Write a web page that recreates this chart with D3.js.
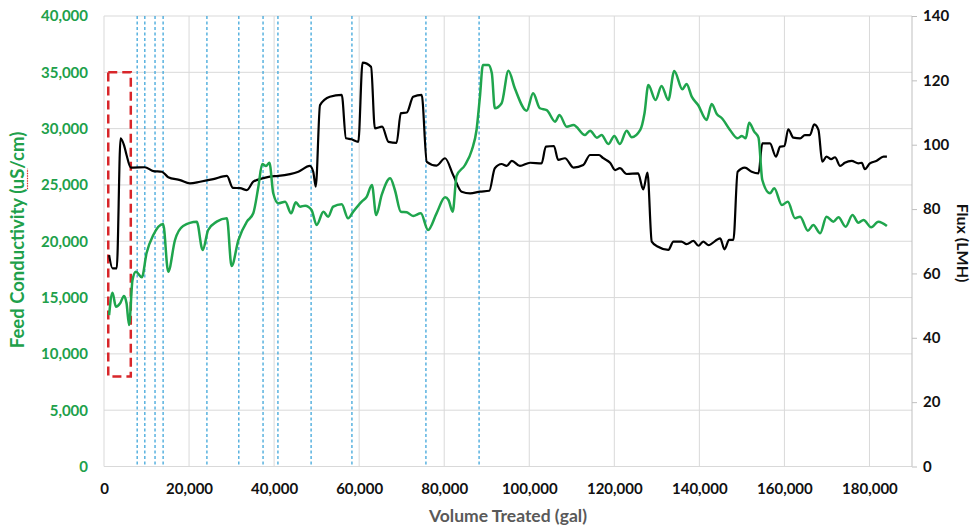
<!DOCTYPE html>
<html><head><meta charset="utf-8">
<script src="https://cdn.jsdelivr.net/npm/d3@7"></script>
<style>body{margin:0;background:#fff}</style>
</head><body><svg id="chart" width="972" height="528"></svg>
<script>
const volumeTicks = [0,20000,40000,60000,80000,100000,120000,140000,160000,180000];
const conductivityTicks = [0,5000,10000,15000,20000,25000,30000,35000,40000];
const fluxTicks = [0,20,40,60,80,100,120,140];
const eventVolumes = [7800,9600,12000,13900,24200,31700,37400,40900,48700,58300,75700,88200];
const startupVolumes = [1000,6300];
const startupConductivity = [8000,35000];

const fluxVolume = [1200,2000,3000,3900,4700,5300,6300,6900,9600,11600,13600,15100,17900,20200,22600,25700,28900,30300,32000,33600,35100,37500,39000,41000,45700,48400,49200,49800,50800,53100,55900,56900,58200,59800,60800,62800,63700,65400,66900,68800,69800,71200,72700,74700,75900,78200,80200,82100,84100,86100,88400,90600,91900,93500,94700,95900,97800,100200,102900,103900,105800,106800,108400,110400,112700,114300,116400,117400,119000,120200,121300,122900,125600,126800,127800,128800,130300,132700,133900,135800,137000,138600,139800,140900,142100,144900,145900,147000,148000,149000,150700,152300,153900,154800,156600,158000,159000,160000,160900,162100,163700,164800,166000,167000,168000,168900,169900,171000,171900,173100,174200,175800,177400,178200,178900,180100,181700,183300,184100];
const fluxValues = [65.7,61.6,61.6,102,99.9,96.8,92.9,92.9,93,91.8,91.6,89.9,89,88,88.5,89.3,90.3,86.6,86.5,85.9,88.5,89.6,90.1,90.3,91.6,93.4,91.6,87,112.3,114.9,115.5,102,101.7,100.9,125.5,124.2,105.1,105.6,100.9,100.6,109.8,110,114.9,115.5,94.7,93.5,95.8,90.6,85.4,84.9,85.4,85.7,92.7,94,93.4,95,93.4,94.4,94.2,99.4,99.6,95.3,95.8,92.9,93.7,96.8,96.8,95.8,94.4,92.1,92.7,90.9,91.1,86.1,91.3,69.9,68.3,67.3,69.9,69.9,69.1,70.1,68.6,69.9,68.8,70.9,67.5,70.4,70.4,91.6,92.9,91.6,91.1,100.4,100.4,96.3,99.4,99.6,104.8,102.2,102,103,103,106.3,104.6,94.7,96.3,95.5,96.1,93.4,94.4,95,94.2,94.4,92.4,94.2,95,96.3,96.3];

const condVolume = [1200,2000,2800,3800,4700,5300,5900,6700,7500,8900,10000,11600,13900,15100,16700,18600,21800,23200,24500,26500,28900,30000,31600,33600,35100,36300,37200,38100,38900,39800,41000,42600,44000,45100,46100,47300,48800,50000,51600,52700,53900,55900,57400,58600,60600,61800,63000,64000,65300,67300,68400,69800,71200,72700,74500,76200,78200,80200,81000,82000,82900,84900,86500,87600,88400,89100,90400,91200,91900,93500,95100,96600,99400,100900,102500,104100,106100,107100,108800,110400,113100,114300,115900,117000,118600,120000,121300,122900,124100,126100,127100,128000,129700,131100,132700,134100,136000,137000,138200,139700,141700,142900,144100,145300,147200,149000,150000,150900,151700,152900,153900,154800,156600,157600,159400,160800,162500,163700,165500,166800,168400,169900,171500,172700,174400,176000,177400,178600,180400,182100,184100];
const condValues = [13450,15430,14190,14490,15140,14490,12560,16560,17300,16800,18930,20560,21530,17300,20110,21350,21740,19220,21000,21740,22040,17800,20110,21740,22480,24840,26860,26680,26970,24260,23370,23510,22480,23460,23070,23160,22780,21440,22620,22180,23070,23280,22040,22620,23510,23960,25000,22330,24110,25590,24550,22620,22570,22240,22480,21000,22480,23900,23660,22620,25790,26770,28100,29880,32840,35650,35650,34910,31810,32250,35140,33580,31590,33140,31810,31650,30620,31210,30170,30320,29430,29820,29190,29430,28630,29350,28630,29820,29230,29880,31360,33870,32540,33790,32540,35120,33490,33960,32840,32100,30770,32190,31300,30920,29880,29140,29350,29140,30530,29730,29200,25440,24260,24700,23220,23510,22040,22180,20940,21440,20710,22180,21740,22130,21290,22330,21650,21890,21240,21740,21350];

const plotLeft = 104, plotRight = 912, plotTop = 16, plotBottom = 466.5;
const green = "#1fa54d", greenText = "#20a04a";
const font = "Lato, 'Open Sans', sans-serif";

const svg = d3.select("#chart");
const x = d3.scaleLinear().domain([0,190000]).range([plotLeft,plotRight]);
const yL = d3.scaleLinear().domain([0,40000]).range([plotBottom,plotTop]);
const yR = d3.scaleLinear().domain([0,140]).range([plotBottom,plotTop]);

// gridlines
svg.append("g").selectAll("line").data(conductivityTicks).join("line")
  .attr("x1",plotLeft).attr("x2",plotRight).attr("y1",d=>yL(d)).attr("y2",d=>yL(d))
  .attr("stroke","#d9d9d9").attr("stroke-width",1);
svg.append("g").selectAll("line").data(volumeTicks).join("line")
  .attr("x1",d=>x(d)).attr("x2",d=>x(d)).attr("y1",plotTop).attr("y2",plotBottom)
  .attr("stroke","#d9d9d9").attr("stroke-width",1);

// right axis line + ticks
svg.append("line").attr("x1",plotRight).attr("x2",plotRight).attr("y1",plotTop).attr("y2",plotBottom)
  .attr("stroke","#bfbfbf").attr("stroke-width",1);
const rAxis = d3.axisRight(yR).tickValues(fluxTicks).tickSize(5).tickPadding(6);
const rg = svg.append("g").attr("transform",`translate(${plotRight},0)`).call(rAxis);
rg.select(".domain").remove();
rg.selectAll(".tick line").attr("stroke","#bfbfbf");
rg.selectAll("text").attr("font-family",font).attr("font-weight","bold").attr("font-size",15).attr("fill","#111");

// left axis labels
const lAxis = d3.axisLeft(yL).tickValues(conductivityTicks).tickSize(0).tickPadding(16).tickFormat(d3.format(","));
const lg = svg.append("g").attr("transform",`translate(${plotLeft},0)`).call(lAxis);
lg.select(".domain").remove();
lg.selectAll("text").attr("font-family",font).attr("font-weight","bold").attr("font-size",15).attr("fill",greenText);

// bottom axis labels
const bAxis = d3.axisBottom(x).tickValues(volumeTicks).tickSize(0).tickPadding(17).tickFormat(d3.format(","));
const bg = svg.append("g").attr("transform",`translate(0,${plotBottom})`).call(bAxis);
bg.select(".domain").remove();
bg.selectAll("text").attr("font-family",font).attr("font-weight","bold").attr("font-size",15).attr("fill","#111");

// event lines
svg.append("g").selectAll("line").data(eventVolumes).join("line")
  .attr("x1",d=>x(d)).attr("x2",d=>x(d)).attr("y1",plotTop).attr("y2",plotBottom)
  .attr("stroke","#3fa6da").attr("stroke-width",1.3).attr("stroke-dasharray","3,2.5");

// startup box
svg.append("rect")
  .attr("x",x(startupVolumes[0])).attr("y",yL(startupConductivity[1]))
  .attr("width",x(startupVolumes[1])-x(startupVolumes[0]))
  .attr("height",yL(startupConductivity[0])-yL(startupConductivity[1]))
  .attr("fill","none").attr("stroke","#d8262a").attr("stroke-width",2.5).attr("stroke-dasharray","9,5");

// series
const fluxData = fluxVolume.map((v,i)=>[v,fluxValues[i]]);
const condData = condVolume.map((v,i)=>[v,condValues[i]]);
svg.append("path").datum(fluxData)
  .attr("d",d3.line().x(d=>x(d[0])).y(d=>yR(d[1])).curve(d3.curveMonotoneX))
  .attr("fill","none").attr("stroke","#000").attr("stroke-width",2.2).attr("stroke-linejoin","round");
svg.append("path").datum(condData)
  .attr("d",d3.line().x(d=>x(d[0])).y(d=>yL(d[1])).curve(d3.curveMonotoneX))
  .attr("fill","none").attr("stroke",green).attr("stroke-width",2.5).attr("stroke-linejoin","round");

// titles
const leftTitleText = "Feed Conductivity (uS/cm)";
const lt = svg.append("g").attr("transform",`translate(24,240) rotate(-90)`);
const ltText = lt.append("text")
  .attr("text-anchor","middle").attr("font-family",font).attr("font-weight","bold")
  .attr("font-size",18.5).attr("fill",greenText).text(leftTitleText);
// spell-check squiggle under "uS"
try {
  const node = ltText.node();
  const total = node.getComputedTextLength();
  const idx = leftTitleText.indexOf("uS");
  const startOff = node.getSubStringLength(0, idx) - total/2;
  const w = node.getSubStringLength(idx, 2);
  lt.append("line").attr("x1",startOff).attr("x2",startOff+w).attr("y1",3.5).attr("y2",3.5)
    .attr("stroke","#e0302a").attr("stroke-width",1.2).attr("stroke-dasharray","1.5,1");
} catch(e) {}

svg.append("text").attr("transform",`translate(957,243) rotate(90)`)
  .attr("text-anchor","middle").attr("font-family",font).attr("font-weight","bold")
  .attr("font-size",16).attr("fill","#111").text("Flux (LMH)");
svg.append("text").attr("x",(plotLeft+plotRight)/2).attr("y",522)
  .attr("text-anchor","middle").attr("font-family",font).attr("font-weight","bold")
  .attr("font-size",17.5).attr("fill","#595959").text("Volume Treated (gal)");
</script></body></html>
